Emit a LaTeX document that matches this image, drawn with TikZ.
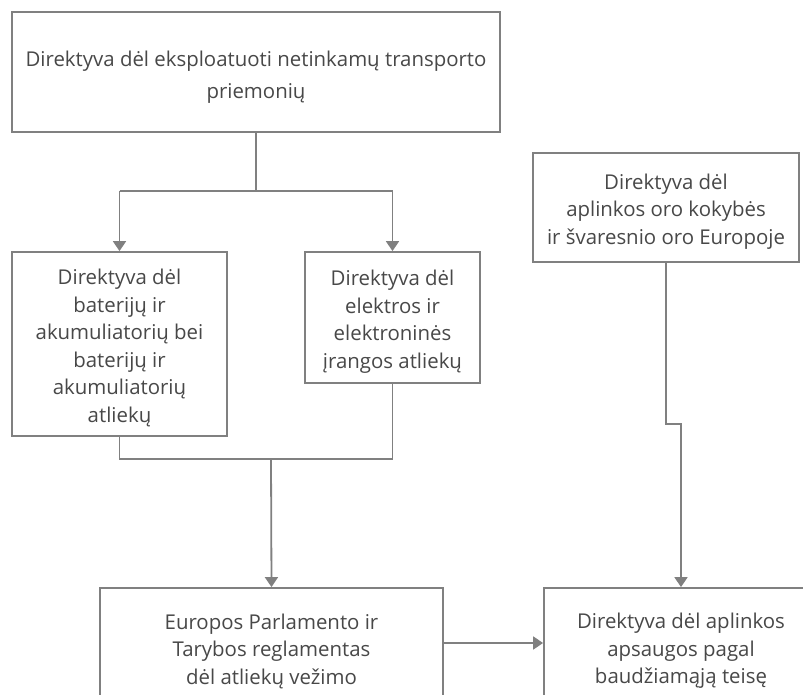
\documentclass[tikz,border=0pt]{standalone}
\usepackage{fontspec}
\setmainfont{Open Sans}
\usetikzlibrary{arrows.meta}
\definecolor{linegray}{HTML}{808080}
\definecolor{textgray}{HTML}{484848}
\begin{document}
\begin{tikzpicture}[x=1pt,y=-1pt,
  frame/.style={draw=linegray, line width=1.8pt, rectangle, inner sep=0pt},
  txt/.style={align=center, text=textgray, inner sep=0pt, yshift=-4pt,
    font={\fontsize{20.4}{27.5}\selectfont}},
  link/.style={draw=linegray, line width=1.8pt},
  arr/.style={link, -{Triangle[length=10pt,width=13pt]}}]
\useasboundingbox (0,0) rectangle (803,695);
\clip (0,0) rectangle (803,695);
\fill[white] (0,0) rectangle (803,695);

% directive boxes (frame, then its text)
\node[frame, minimum width=488pt, minimum height=120pt] (top) at (256,72) {};
\node[txt, yshift=-1pt, font={\fontsize{20.4}{32}\selectfont}] (topt) at (top.center)
  {Direktyva dėl eksploatuoti netinkamų transporto\\priemonių};
\node[frame, minimum width=215pt, minimum height=184pt] (bat) at (119.5,344) {};
\node[txt] (batt) at (bat.center)
  {Direktyva dėl\\baterijų ir\\akumuliatorių bei\\baterijų ir\\akumuliatorių\\atliekų};
\node[frame, minimum width=175pt, minimum height=131pt] (elec) at (392.5,317.5) {};
\node[txt] (elect) at (elec.center)
  {Direktyva dėl\\elektros ir\\elektroninės\\įrangos atliekų};
\node[frame, minimum width=266pt, minimum height=109pt] (air) at (666,207.5) {};
\node[txt] (airt) at (air.center)
  {Direktyva dėl\\aplinkos oro kokybės\\ir švaresnio oro Europoje};
\node[frame, minimum width=343pt, minimum height=118pt] (reg) at (271.5,647) {};
\node[txt] (regt) at (reg.center)
  {Europos Parlamento ir\\Tarybos reglamentas\\dėl atliekų vežimo};
\node[frame, minimum width=274pt, minimum height=118pt] (crim) at (681,647) {};
\node[txt] (crimt) at (crim.center)
  {Direktyva dėl aplinkos\\apsaugos pagal\\baudžiamąją teisę};

% junction points
\coordinate (split) at (257,191);
\coordinate (merge) at (271,459);
\coordinate (jog) at (0,424);
\coordinate (side) at (0,643);

% top directive splits into two
\draw[link] (top.south) -- (top.south |- split);
\draw[arr] (bat.north |- split) -- (bat.north);
\draw[arr] (elec.north |- split) -- (elec.north);
\draw[link] (bat.north |- split) -- (elec.north |- split);

% two directives merge into the regulation
\draw[link] (bat.south) -- (bat.south |- merge) -- (elec.south |- merge) -- (elec.south);
\draw[arr] (merge) -- (reg.north);

% air quality directive to criminal law directive
\draw[arr] (air.south) -- (air.south |- jog) -- (crim.north |- jog) -- (crim.north);

% regulation to criminal law directive
\draw[arr] (reg.east |- side) -- (crim.west |- side);
\end{tikzpicture}
\end{document}
